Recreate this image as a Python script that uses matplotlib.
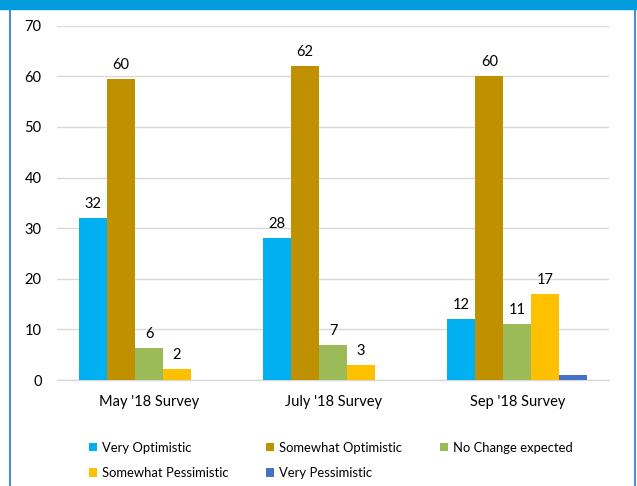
import numpy as np
import matplotlib
matplotlib.use("Agg")
import matplotlib.pyplot as plt
from matplotlib.patches import Rectangle
from matplotlib.lines import Line2D

plt.rcParams['font.family'] = ['Lato', 'DejaVu Sans']

# ------------------------------------------------------------
# data
# ------------------------------------------------------------
surveys = ["May '18 Survey", "July '18 Survey", "Sep '18 Survey"]
series_names = ["Very Optimistic", "Somewhat Optimistic", "No Change expected",
                "Somewhat Pessimistic", "Very Pessimistic"]
very_optimistic = [32, 28, 12]
somewhat_optimistic = [59.5, 62, 60]
no_change = [6.3, 7, 11]
somewhat_pessimistic = [2.1, 3, 17]
very_pessimistic = [0, 0, 1]
# data labels as printed on the chart ("" = not shown)
labels_vo = ["32", "28", "12"]
labels_so = ["60", "62", "60"]
labels_nc = ["6", "7", "11"]
labels_sp = ["2", "3", "17"]
labels_vp = ["", "", ""]
yticks = [0, 10, 20, 30, 40, 50, 60, 70]

colors = ["#00B0F0", "#BF9000", "#9BBB59", "#FFC000", "#4472C4"]

values = [very_optimistic, somewhat_optimistic, no_change,
          somewhat_pessimistic, very_pessimistic]
labels = [labels_vo, labels_so, labels_nc, labels_sp, labels_vp]

fig = plt.figure(figsize=(6.37, 4.86), dpi=100)
ax = fig.add_axes([0.0895, 0.218, 0.867, 0.729])

x = np.arange(len(surveys))
width = 0.152
for i, (vals, labs) in enumerate(zip(values, labels)):
    pos = x + (i - 2) * width
    bars = ax.bar(pos, vals, width, color=colors[i], label=series_names[i],
                  zorder=3, edgecolor="none")
    for b, lab in zip(bars, labs):
        if lab:
            ax.annotate(lab, (b.get_x() + b.get_width() / 2, b.get_height()),
                        xytext=(0, 5), textcoords="offset points",
                        ha="center", va="bottom", fontsize=10.5, color="#000000")

ax.set_xlim(-0.5, len(surveys) - 0.5)
ax.set_ylim(0, 70)
ax.set_yticks(yticks)
ax.set_xticks(x)
ax.set_xticklabels(surveys, fontsize=10.5)
ax.tick_params(axis="y", labelsize=10.5, length=0, pad=11)
ax.tick_params(axis="x", length=0, pad=11)
ax.yaxis.grid(True, color="#D9D9D9", linewidth=1, zorder=0)
for s in ["top", "right", "left"]:
    ax.spines[s].set_visible(False)
ax.spines["bottom"].set_color("#D9D9D9")
ax.spines["bottom"].set_linewidth(1)

# legend, reordered so it reads row by row
handles, names = ax.get_legend_handles_labels()
order = [0, 3, 1, 4, 2]
fig.legend([handles[k] for k in order], [names[k] for k in order],
           ncol=3, loc="center", bbox_to_anchor=(0.519, 0.053), frameon=False,
           fontsize=9.4, handlelength=0.65, handleheight=0.65, handletextpad=0.35,
           columnspacing=2.9, labelspacing=1.0)

# frame: blue header band and thin side borders
fig.patches.append(Rectangle((0, 1 - 9 / 486), 1, 9 / 486, transform=fig.transFigure,
                             color="#009CDE", zorder=10))
fig.lines.append(Line2D([10 / 637, 10 / 637], [0, 1 - 9 / 486], transform=fig.transFigure,
                        color="#4F8BD0", linewidth=1.5))
fig.lines.append(Line2D([635 / 637, 635 / 637], [0, 1 - 9 / 486], transform=fig.transFigure,
                        color="#4F8BD0", linewidth=1.5))

fig.savefig("out.png", dpi=100)
